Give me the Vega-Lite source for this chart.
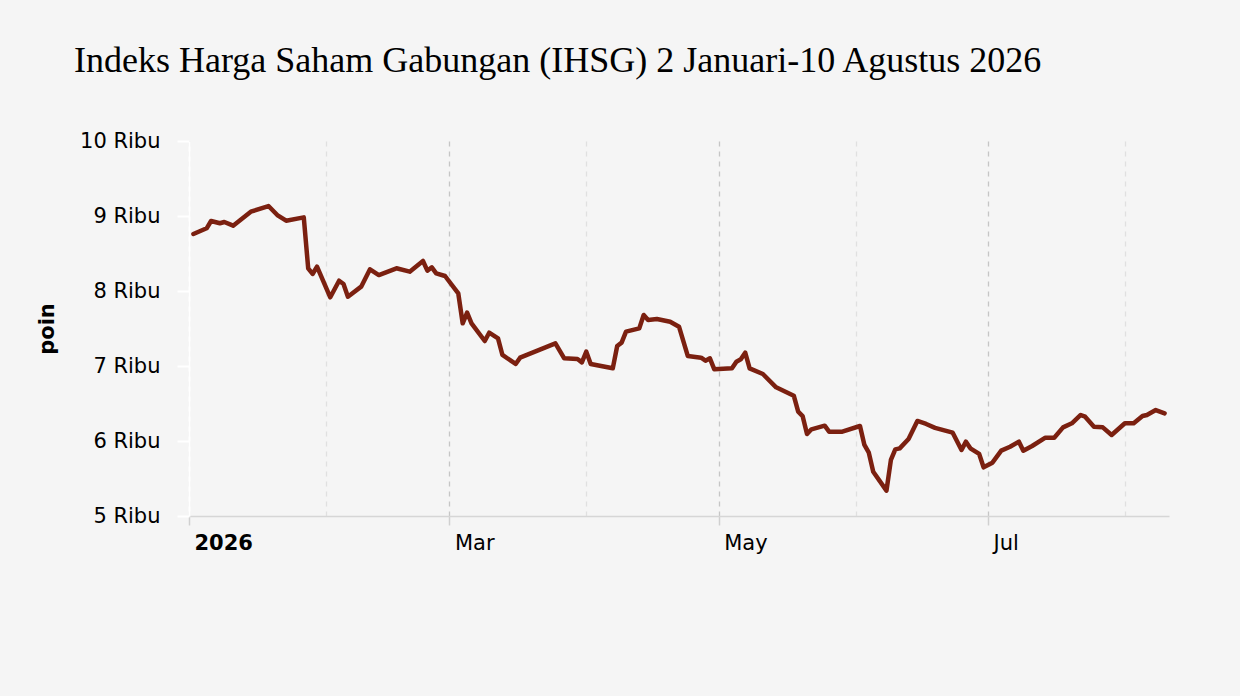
{
  "$schema": "https://vega.github.io/schema/vega-lite/v6.json",
  "autosize": "none",
  "width": 980,
  "height": 375,
  "padding": {"left": 189, "top": 141, "right": 71, "bottom": 180},
  "background": "#f5f5f5",
  "title": {
    "text": "Indeks Harga Saham Gabungan (IHSG) 2 Januari-10 Agustus 2026",
    "anchor": "start",
    "frame": "group",
    "dx": -115,
    "offset": 50,
    "font": "Liberation Serif",
    "fontSize": 36,
    "fontWeight": "normal",
    "color": "#000000"
  },
  "data": {
    "values": [
      {"tanggal": "2026-01-02", "ihsg": 8760},
      {"tanggal": "2026-01-05", "ihsg": 8836},
      {"tanggal": "2026-01-06", "ihsg": 8933},
      {"tanggal": "2026-01-08", "ihsg": 8903},
      {"tanggal": "2026-01-09", "ihsg": 8920},
      {"tanggal": "2026-01-11", "ihsg": 8871},
      {"tanggal": "2026-01-15", "ihsg": 9057},
      {"tanggal": "2026-01-19", "ihsg": 9133},
      {"tanggal": "2026-01-21", "ihsg": 9013},
      {"tanggal": "2026-01-23", "ihsg": 8937},
      {"tanggal": "2026-01-27", "ihsg": 8982},
      {"tanggal": "2026-01-28", "ihsg": 8303},
      {"tanggal": "2026-01-29", "ihsg": 8227},
      {"tanggal": "2026-01-30", "ihsg": 8324},
      {"tanggal": "2026-02-02", "ihsg": 7916},
      {"tanggal": "2026-02-04", "ihsg": 8137},
      {"tanggal": "2026-02-05", "ihsg": 8093},
      {"tanggal": "2026-02-06", "ihsg": 7924},
      {"tanggal": "2026-02-09", "ihsg": 8058},
      {"tanggal": "2026-02-11", "ihsg": 8289},
      {"tanggal": "2026-02-13", "ihsg": 8213},
      {"tanggal": "2026-02-17", "ihsg": 8303},
      {"tanggal": "2026-02-20", "ihsg": 8258},
      {"tanggal": "2026-02-23", "ihsg": 8400},
      {"tanggal": "2026-02-24", "ihsg": 8271},
      {"tanggal": "2026-02-25", "ihsg": 8316},
      {"tanggal": "2026-02-26", "ihsg": 8236},
      {"tanggal": "2026-02-28", "ihsg": 8200},
      {"tanggal": "2026-03-03", "ihsg": 7969},
      {"tanggal": "2026-03-04", "ihsg": 7569},
      {"tanggal": "2026-03-05", "ihsg": 7711},
      {"tanggal": "2026-03-06", "ihsg": 7569},
      {"tanggal": "2026-03-09", "ihsg": 7333},
      {"tanggal": "2026-03-10", "ihsg": 7444},
      {"tanggal": "2026-03-12", "ihsg": 7369},
      {"tanggal": "2026-03-13", "ihsg": 7147},
      {"tanggal": "2026-03-16", "ihsg": 7027},
      {"tanggal": "2026-03-17", "ihsg": 7111},
      {"tanggal": "2026-03-25", "ihsg": 7302},
      {"tanggal": "2026-03-27", "ihsg": 7102},
      {"tanggal": "2026-03-30", "ihsg": 7093},
      {"tanggal": "2026-03-31", "ihsg": 7049},
      {"tanggal": "2026-04-01", "ihsg": 7191},
      {"tanggal": "2026-04-02", "ihsg": 7027},
      {"tanggal": "2026-04-07", "ihsg": 6969},
      {"tanggal": "2026-04-08", "ihsg": 7267},
      {"tanggal": "2026-04-09", "ihsg": 7311},
      {"tanggal": "2026-04-10", "ihsg": 7458},
      {"tanggal": "2026-04-13", "ihsg": 7502},
      {"tanggal": "2026-04-14", "ihsg": 7680},
      {"tanggal": "2026-04-15", "ihsg": 7613},
      {"tanggal": "2026-04-17", "ihsg": 7627},
      {"tanggal": "2026-04-20", "ihsg": 7591},
      {"tanggal": "2026-04-22", "ihsg": 7524},
      {"tanggal": "2026-04-24", "ihsg": 7133},
      {"tanggal": "2026-04-27", "ihsg": 7111},
      {"tanggal": "2026-04-28", "ihsg": 7071},
      {"tanggal": "2026-04-29", "ihsg": 7102},
      {"tanggal": "2026-04-30", "ihsg": 6956},
      {"tanggal": "2026-05-04", "ihsg": 6969},
      {"tanggal": "2026-05-05", "ihsg": 7058},
      {"tanggal": "2026-05-06", "ihsg": 7089},
      {"tanggal": "2026-05-07", "ihsg": 7178},
      {"tanggal": "2026-05-08", "ihsg": 6969},
      {"tanggal": "2026-05-11", "ihsg": 6893},
      {"tanggal": "2026-05-14", "ihsg": 6716},
      {"tanggal": "2026-05-18", "ihsg": 6604},
      {"tanggal": "2026-05-19", "ihsg": 6391},
      {"tanggal": "2026-05-20", "ihsg": 6333},
      {"tanggal": "2026-05-21", "ihsg": 6093},
      {"tanggal": "2026-05-22", "ihsg": 6156},
      {"tanggal": "2026-05-25", "ihsg": 6204},
      {"tanggal": "2026-05-26", "ihsg": 6124},
      {"tanggal": "2026-05-29", "ihsg": 6124},
      {"tanggal": "2026-06-02", "ihsg": 6200},
      {"tanggal": "2026-06-03", "ihsg": 5947},
      {"tanggal": "2026-06-04", "ihsg": 5844},
      {"tanggal": "2026-06-05", "ihsg": 5591},
      {"tanggal": "2026-06-08", "ihsg": 5338},
      {"tanggal": "2026-06-09", "ihsg": 5747},
      {"tanggal": "2026-06-10", "ihsg": 5889},
      {"tanggal": "2026-06-11", "ihsg": 5902},
      {"tanggal": "2026-06-13", "ihsg": 6027},
      {"tanggal": "2026-06-15", "ihsg": 6267},
      {"tanggal": "2026-06-17", "ihsg": 6227},
      {"tanggal": "2026-06-19", "ihsg": 6175},
      {"tanggal": "2026-06-23", "ihsg": 6111},
      {"tanggal": "2026-06-25", "ihsg": 5880},
      {"tanggal": "2026-06-26", "ihsg": 5991},
      {"tanggal": "2026-06-27", "ihsg": 5902},
      {"tanggal": "2026-06-29", "ihsg": 5827},
      {"tanggal": "2026-06-30", "ihsg": 5649},
      {"tanggal": "2026-07-02", "ihsg": 5711},
      {"tanggal": "2026-07-04", "ihsg": 5871},
      {"tanggal": "2026-07-06", "ihsg": 5924},
      {"tanggal": "2026-07-08", "ihsg": 5991},
      {"tanggal": "2026-07-09", "ihsg": 5871},
      {"tanggal": "2026-07-11", "ihsg": 5933},
      {"tanggal": "2026-07-14", "ihsg": 6044},
      {"tanggal": "2026-07-16", "ihsg": 6044},
      {"tanggal": "2026-07-18", "ihsg": 6182},
      {"tanggal": "2026-07-20", "ihsg": 6236},
      {"tanggal": "2026-07-22", "ihsg": 6347},
      {"tanggal": "2026-07-23", "ihsg": 6324},
      {"tanggal": "2026-07-25", "ihsg": 6191},
      {"tanggal": "2026-07-27", "ihsg": 6182},
      {"tanggal": "2026-07-29", "ihsg": 6080},
      {"tanggal": "2026-08-01", "ihsg": 6236},
      {"tanggal": "2026-08-03", "ihsg": 6236},
      {"tanggal": "2026-08-05", "ihsg": 6333},
      {"tanggal": "2026-08-06", "ihsg": 6347},
      {"tanggal": "2026-08-08", "ihsg": 6413},
      {"tanggal": "2026-08-10", "ihsg": 6369}
    ]
  },
  "mark": {"type": "line", "color": "#7b2010", "strokeWidth": 4.5, "strokeJoin": "round", "strokeCap": "round"},
  "encoding": {
    "x": {
      "field": "tanggal",
      "type": "temporal",
      "title": null,
      "scale": {"type": "utc", "domain": ["2026-01-01", "2026-08-11"]},
      "axis": {
        "tickCount": {"interval": "month", "step": 1},
        "labelExpr": "utcmonth(datum.value) == 0 ? utcFormat(datum.value, '%Y') : (utcmonth(datum.value) % 2 == 0 ? utcFormat(datum.value, '%b') : '')",
        "labelAlign": "left",
        "labelOffset": 5,
        "labelPadding": 7,
        "labelFontWeight": {"condition": {"test": "utcmonth(datum.value) == 0", "value": "bold"}, "value": "normal"},
        "grid": true,
        "gridDash": [5, 5],
        "gridWidth": 1.3,
        "gridColor": {"condition": {"test": "utcmonth(datum.value) % 2 == 0", "value": "#c6c6c6"}, "value": "#e0e0e0"},
        "domainColor": "#d6d6d6",
        "domainWidth": 1.5,
        "tickSize": 9,
        "tickWidth": 1.5,
        "tickColor": {"condition": {"test": "utcmonth(datum.value) % 2 == 0", "value": "#d0d0d0"}, "value": "transparent"}
      }
    },
    "y": {
      "field": "ihsg",
      "type": "quantitative",
      "title": "poin",
      "scale": {"domain": [5000, 10000]},
      "axis": {
        "values": [5000, 6000, 7000, 8000, 9000, 10000],
        "labelExpr": "(datum.value / 1000) + ' Ribu'",
        "grid": false,
        "domainColor": "#ffffff",
        "domainWidth": 2,
        "tickColor": "#ffffff",
        "tickWidth": 2,
        "tickSize": 12,
        "labelPadding": 17,
        "titlePadding": 22,
        "titleFontWeight": "bold"
      }
    }
  },
  "config": {
    "view": {"stroke": null},
    "axis": {
      "labelFont": "DejaVu Sans",
      "labelFontSize": 21,
      "labelColor": "#000000",
      "titleFont": "DejaVu Sans",
      "titleFontSize": 21,
      "titleColor": "#000000"
    }
  }
}
